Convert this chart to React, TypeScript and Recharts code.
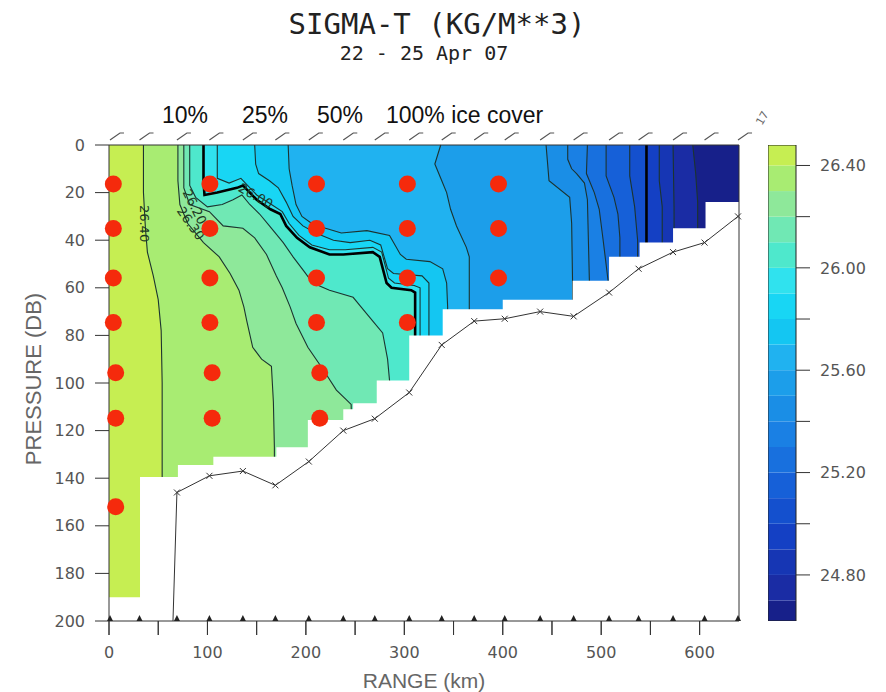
import React from "react";
import { ComposedChart, Area, Line, Scatter, XAxis, YAxis, ReferenceLine, ReferenceArea } from "recharts";

const MAX_RANGE = 640;

// station positions along the section (km)
const stations = [1, 31, 69, 102, 136, 169, 203, 238, 270, 305, 338, 371, 402, 438, 472, 508, 538, 573, 605, 639];

// sea floor
const bottomRange = [65, 69, 102, 136, 169, 203, 238, 270, 305, 338, 371, 402, 438, 472, 508, 538, 573, 605, 639];
const bottomPressure = [200, 146, 139, 137, 143, 133, 120, 115, 104, 84, 74, 73, 70, 72, 62, 52, 45, 41, 30];

// right-hand limit of the gridded data, [range, pressure]
const dataEdge = [
  [640, 0], [640, 24], [606, 24], [606, 35], [573, 35], [573, 41], [539, 41], [539, 47],
  [508, 47], [508, 57], [471, 57], [471, 65], [400, 65], [400, 69], [339, 69], [339, 80],
  [305, 80], [305, 99], [272, 99], [272, 108.5], [248, 108.5], [248, 111], [238, 111],
  [238, 115.5], [202, 115.5], [202, 127], [170, 127], [170, 131], [106, 131], [106, 134.5],
  [70, 134.5], [70, 139.5], [31.5, 139.5], [31.5, 190], [0, 190], [0, 200],
];

// colour bar
const barEdges = [24.62, 24.7, 24.8, 24.9, 25.0, 25.1, 25.2, 25.3, 25.4, 25.5, 25.6, 25.7, 25.8, 25.9, 26.0, 26.1, 26.2, 26.3, 26.4, 26.48];
const bandColors = [
  "#17208a", "#1a2ca4", "#1636b4", "#1440c4", "#1450ce", "#1660d8", "#1870de", "#1a80e4",
  "#1a8ee6", "#1c9eea", "#20b2f0", "#14c6f2", "#18d6f4", "#30e2ee", "#4ee8cc", "#70e8b4",
  "#8ee89a", "#a8ec72", "#c6ee52",
];
const barTicks = [24.8, 25.0, 25.2, 25.4, 25.6, 25.8, 26.0, 26.2, 26.4];

// contour lines, [range, pressure]
const c2640 = [[35, 0], [35, 20], [37, 35], [39, 45], [45, 55], [50, 65], [53, 78], [54, 100], [54, 139], [54, 200]];
const c2630 = [[70, 0], [70, 15], [72, 25], [80, 33], [96, 41], [112, 47], [123, 54], [132, 61], [137, 68], [140, 74], [146, 85], [155, 90], [165, 93], [167, 108], [168, 127], [168, 200]];
const c2620 = [[76, 0], [76, 18], [82, 25], [102, 28], [116, 34], [136, 35], [148, 39], [160, 46], [170, 55], [176, 60], [184, 68], [190, 75], [202, 85], [217, 94], [231, 103], [241, 107], [246, 109], [250, 200]];
const c2610 = [[82, 0], [82, 17], [88, 22], [100, 26], [115, 25], [126, 23], [135, 21], [143, 25], [153, 29], [163, 34], [177, 41], [187, 47], [198, 53], [207, 58], [224, 61], [248, 64], [256, 68], [268, 74], [278, 79], [283, 90], [285, 99], [290, 200]];
const c2600 = [[96, 0], [96, 15], [97, 21], [110, 20], [130, 18], [136, 17], [150, 23], [164, 27], [174, 29], [180, 34], [191, 39], [204, 43], [224, 46], [238, 46], [268, 45], [275, 47], [282, 58], [287, 60], [307, 61], [311, 62], [311, 82], [311, 200]];
const c2590 = [[110, 0], [110, 14], [122, 16], [134, 14], [150, 21], [165, 25], [176, 28], [183, 33], [193, 38], [206, 42], [224, 44], [240, 44], [268, 43], [277, 45], [284, 56], [290, 58], [310, 59], [316, 60], [316, 85], [316, 200]];
const c2580 = [[148, 0], [149, 8], [152, 12], [163, 15], [172, 18], [180, 24], [187, 30], [197, 34], [210, 37], [228, 40], [245, 41], [265, 40], [276, 42], [283, 52], [289, 54], [318, 55], [325, 58], [325, 85], [325, 200]];
const c2570 = [[182, 0], [183, 10], [186, 17], [190, 25], [196, 30], [206, 33], [220, 35], [236, 37], [262, 36], [285, 38], [296, 46], [302, 48], [326, 49], [339, 52], [343, 58], [344, 68], [344, 200]];
const c2560 = [[337, 0], [331, 8], [337, 14], [343, 20], [347, 27], [353, 34], [363, 43], [366, 47], [366, 69], [366, 200]];
const c2550 = [[444, 0], [447, 15], [468, 22], [470, 33], [471, 60], [471, 200]];
const c2540 = [[466, 0], [466, 6], [470, 10], [475, 12], [483, 16], [486, 23], [488, 57], [488, 200]];
const c2530 = [[486, 0], [485, 12], [493, 20], [498, 27], [502, 40], [507, 57], [507, 200]];
const c2520 = [[505, 0], [505, 13], [513, 22], [517, 29], [519, 39], [519, 200]];
const c2510 = [[529, 0], [529, 13], [534, 26], [537, 40], [537, 200]];
const c2500 = [[546, 0], [546, 200]];
const c2490 = [[559, 0], [559, 15], [562, 26], [562, 200]];
const c2480 = [[573, 0], [574, 26], [575, 200]];
const c2470 = [[593, 0], [596, 12], [598, 24], [598, 200]];

const contours = [
  { level: 26.4, path: c2640 }, { level: 26.3, path: c2630 }, { level: 26.2, path: c2620 },
  { level: 26.1, path: c2610 }, { level: 26.0, path: c2600, bold: true }, { level: 25.9, path: c2590 },
  { level: 25.8, path: c2580 }, { level: 25.7, path: c2570 }, { level: 25.6, path: c2560 },
  { level: 25.5, path: c2550 }, { level: 25.4, path: c2540 }, { level: 25.3, path: c2530 },
  { level: 25.2, path: c2520 }, { level: 25.1, path: c2510 }, { level: 25.0, path: c2500, bold: true },
  { level: 24.9, path: c2490 }, { level: 24.8, path: c2480 }, { level: 24.7, path: c2470 },
];

// contour labels
const labelText = ["26.40", "26.30", "26.20", "26.00"];
const labelRange = [36, 83, 87, 149];
const labelPressure = [33, 33, 26, 21.4];
const labelAngle = [90, 55, 63, 30];

// sample positions (red dots)
const sampleRange = [4.4, 4.4, 4.4, 4.4, 6.8, 6.8, 6.8, 102.5, 102.5, 102.5, 102.5, 104.8, 104.8, 210.8, 210.8, 210.8, 210.8, 214.1, 214.1, 303.1, 303.1, 303.1, 303.1, 395.7, 395.7, 395.7];
const samplePressure = [16.4, 35.1, 55.9, 74.6, 95.7, 114.8, 152, 16.4, 35.1, 55.9, 74.6, 95.7, 114.8, 16.4, 35.1, 55.9, 74.6, 95.7, 114.8, 16.4, 35.1, 55.9, 74.6, 16.4, 35.1, 55.9];

const xTicks = [0, 50, 100, 150, 200, 250, 300, 350, 400, 450, 500, 550, 600];
const yTicks = [0, 20, 40, 60, 80, 100, 120, 140, 160, 180, 200];

const toPts = (path: number[][]) => path.map(([r, p]) => ({ r, p }));
const bandIndex = (level: number) => Math.round((level - 24.7) * 10);

const tickFont = { fill: "#555", fontSize: 16, fontFamily: "DejaVu Sans" };
const lineColor = "#1c3430";

// bottom axis tick: mark every 50 km, number every 100 km
const RangeTick = (props: any) => {
  const { x, y, payload } = props;
  const v = payload.value;
  return (
    <g>
      <line x1={x} y1={y} x2={x} y2={y + 14} stroke="#333" strokeWidth={1} />
      {v % 100 === 0 && (
        <text x={x} y={y + 26} dy="0.71em" textAnchor="middle" fontFamily="DejaVu Sans" fontSize={16} fill="#555">
          {v}
        </text>
      )}
    </g>
  );
};

const App: React.FC = () => {
  const samples = sampleRange.map((r, i) => ({ r, p: samplePressure[i] }));
  const labels = labelText.map((t, i) => ({ r: labelRange[i], p: labelPressure[i], t, a: labelAngle[i] }));
  const bottom = bottomRange.map((r, i) => ({ r, p: bottomPressure[i] }));
  const topMarks = stations.map((r) => ({ r, p: 0 }));
  const axisMarks = stations.map((r) => ({ r, p: 200 }));
  const rangeMarks = xTicks.map((r) => ({ r, p: 200 }));

  return (
    <div style={{ position: "absolute", left: 0, top: 0, width: 886, height: 692, background: "#fff" }}>
      <div style={{ position: "absolute", left: 0, top: 0 }}>
        <ComposedChart
          width={886}
          height={692}
          layout="vertical"
          margin={{ top: 145, left: 49, right: 127, bottom: 31 }}
        >
          <Area
            data={toPts([[0, 0], [0, 200]])}
            dataKey={(d: any) => [d.r, MAX_RANGE]}
            type="linear"
            fill={bandColors[18]}
            fillOpacity={1}
            stroke="none"
            isAnimationActive={false}
          />
          {contours.map((c) => (
            <Area
              key={"f" + c.level}
              data={toPts(c.path)}
              dataKey={(d: any) => [d.r, MAX_RANGE]}
              type="linear"
              fill={bandColors[bandIndex(c.level)]}
              fillOpacity={1}
              stroke="none"
              isAnimationActive={false}
            />
          ))}
          {contours.map((c) => (
            <Line
              key={"l" + c.level}
              data={toPts(c.path)}
              dataKey="r"
              type="linear"
              stroke={c.bold ? "#000" : lineColor}
              strokeWidth={c.bold ? 2.6 : 1.1}
              dot={false}
              activeDot={false}
              isAnimationActive={false}
              zIndex={400}
            />
          ))}
          <Scatter
            data={labels}
            isAnimationActive={false}
            zIndex={420}
            shape={(props: any) => (
              <text
                x={props.cx}
                y={props.cy}
                transform={`rotate(${props.payload.a} ${props.cx} ${props.cy})`}
                textAnchor="middle"
                dominantBaseline="central"
                fontFamily="DejaVu Sans"
                fontSize={13}
                fill="#1e3a24"
              >
                {props.payload.t}
              </text>
            )}
          />
          <Area
            data={toPts(dataEdge)}
            dataKey={(d: any) => [d.r, MAX_RANGE]}
            type="linear"
            fill="#fff"
            fillOpacity={1}
            stroke="none"
            isAnimationActive={false}
            zIndex={450}
          />
          <Line
            data={bottom}
            dataKey="r"
            type="linear"
            stroke="#333"
            strokeWidth={1}
            isAnimationActive={false}
            activeDot={false}
            zIndex={460}
            dot={(props: any) =>
              props.index === 0 ? (
                <g key={"b" + props.index} />
              ) : (
                <path
                  key={"b" + props.index}
                  d={`M${props.cx - 3} ${props.cy - 3}L${props.cx + 3} ${props.cy + 3}M${props.cx - 3} ${props.cy + 3}L${props.cx + 3} ${props.cy - 3}`}
                  stroke="#333"
                  strokeWidth={1}
                />
              )
            }
          />
          <Scatter
            data={topMarks}
            isAnimationActive={false}
            zIndex={600}
            shape={(props: any) => (
              <path
                d={`M${props.cx} ${props.cy - 5}L${props.cx + 10} ${props.cy - 12}L${props.cx + 14} ${props.cy - 12}`}
                stroke="#555"
                strokeWidth={1.2}
                fill="none"
              />
            )}
          />
          <Scatter
            data={axisMarks}
            isAnimationActive={false}
            zIndex={600}
            shape={(props: any) => (
              <path
                d={`M${props.cx - 3} ${props.cy}L${props.cx} ${props.cy - 6}L${props.cx + 3} ${props.cy}Z`}
                fill="#222"
              />
            )}
          />
          <Scatter
            data={rangeMarks}
            isAnimationActive={false}
            zIndex={600}
            shape={(props: any) => (
              <line x1={props.cx} y1={props.cy} x2={props.cx} y2={props.cy + 14} stroke="#333" strokeWidth={1} />
            )}
          />
          <Scatter
            data={samples}
            isAnimationActive={false}
            zIndex={600}
            shape={(props: any) => <circle cx={props.cx} cy={props.cy} r={8.5} fill="#f52a0c" />}
          />
          <ReferenceLine y={0} stroke="#333" strokeWidth={1} />
          <XAxis
            type="number"
            dataKey="r"
            domain={[0, MAX_RANGE]}
            ticks={xTicks}
            interval={0}
            height={40}
            tickSize={0}
            tickMargin={0}
            tick={<RangeTick />}
            tickLine={false}
            axisLine={{ stroke: "#333" }}
          />
          <YAxis
            type="number"
            dataKey="p"
            domain={[0, 200]}
            ticks={yTicks}
            interval={0}
            width={60}
            tickSize={14}
            tickMargin={10}
            tick={tickFont}
            axisLine={{ stroke: "#333" }}
            tickLine={{ stroke: "#333" }}
          />
          <YAxis
            yAxisId="right"
            orientation="right"
            type="number"
            dataKey="p"
            domain={[0, 200]}
            ticks={yTicks}
            interval={0}
            width={20}
            tickSize={14}
            tickFormatter={() => ""}
            axisLine={{ stroke: "#333" }}
            tickLine={{ stroke: "#333" }}
          />
        </ComposedChart>
      </div>

      <div style={{ position: "absolute", left: 768, top: 145 }}>
        <ComposedChart width={118} height={476} data={[{ x: 0 }, { x: 1 }]} margin={{ top: 0, right: 0, bottom: 0, left: 0 }}>
          <XAxis type="number" dataKey="x" domain={[0, 1]} hide />
          <YAxis
            orientation="right"
            type="number"
            domain={[barEdges[0], barEdges[barEdges.length - 1]]}
            allowDataOverflow
            ticks={barTicks}
            interval={0}
            tickFormatter={(v: number, i: number) => (i % 2 === 0 ? v.toFixed(2) : "")}
            width={90}
            tickSize={14}
            tickMargin={10}
            tick={tickFont}
            axisLine={false}
            tickLine={{ stroke: "#333" }}
          />
          {bandColors.map((c, i) => (
            <Area
              key={"cb" + i}
              dataKey={() => [barEdges[i], barEdges[i + 1]]}
              type="linear"
              fill={c}
              fillOpacity={1}
              stroke="none"
              isAnimationActive={false}
            />
          ))}
          <ReferenceArea
            x1={0}
            x2={1}
            y1={barEdges[0]}
            y2={barEdges[barEdges.length - 1]}
            fill="none"
            fillOpacity={0}
            stroke="#222"
            strokeWidth={1}
          />
        </ComposedChart>
      </div>

      <svg width={886} height={692} style={{ position: "absolute", left: 0, top: 0, pointerEvents: "none" }}>
        <text x={437} y={34} textAnchor="middle" fontFamily="DejaVu Sans Mono" fontSize={29} fill="#222">
          SIGMA-T (KG/M**3)
        </text>
        <text x={424} y={60} textAnchor="middle" fontFamily="DejaVu Sans Mono" fontSize={20} fill="#222">
          22 - 25 Apr 07
        </text>
        <g fontFamily="Liberation Sans, Arial, sans-serif" fontSize={23} fill="#111">
          <text x={185} y={123} textAnchor="middle">10%</text>
          <text x={265} y={123} textAnchor="middle">25%</text>
          <text x={340} y={123} textAnchor="middle">50%</text>
          <text x={386} y={123}>100% ice cover</text>
        </g>
        <text
          transform="translate(41 379) rotate(-90)"
          textAnchor="middle"
          fontFamily="Liberation Sans, Arial, sans-serif"
          fontSize={22}
          fill="#666"
        >
          PRESSURE (DB)
        </text>
        <text x={424} y={688} textAnchor="middle" fontFamily="Liberation Sans, Arial, sans-serif" fontSize={21} fill="#666">
          RANGE (km)
        </text>
        <text transform="translate(762 126) rotate(-60)" fontFamily="DejaVu Sans" fontSize={11} fill="#666">
          17
        </text>
      </svg>
    </div>
  );
};

export default App;
